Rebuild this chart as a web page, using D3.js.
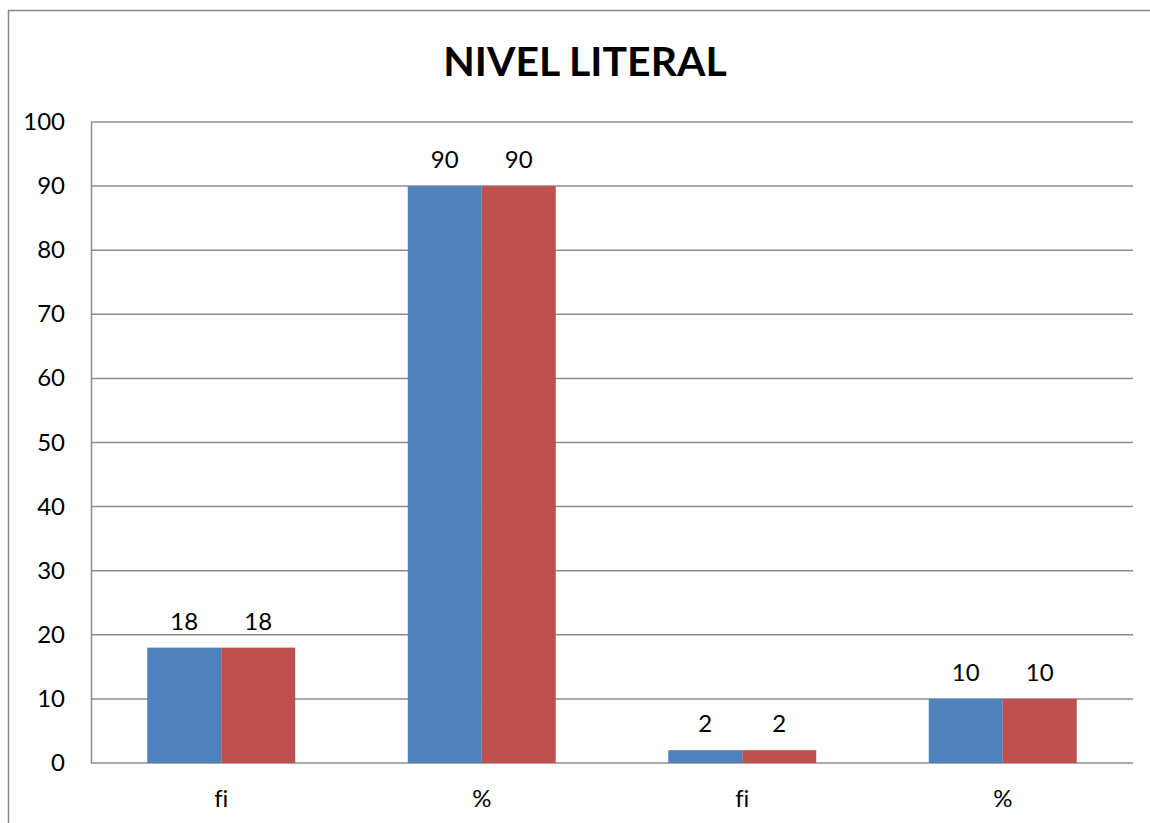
<!DOCTYPE html>
<html>
<head>
<meta charset="utf-8">
<script src="https://cdn.jsdelivr.net/npm/d3@7"></script>
<style>
  body { margin: 0; background: #fff; overflow: hidden; }
  text { font-family: Lato, "Open Sans", sans-serif; fill: #000; font-variant-ligatures: none; }
</style>
</head>
<body>
<div id="chart"></div>
<script>
const width = 1150;
const height = 823;
const margin = { top: 122, right: 17, bottom: 60, left: 91 };
const innerWidth = 1133 - margin.left;
const innerHeight = 763 - margin.top;

// data
const categories = ["fi", "%", "fi", "%"];
const series = ["Serie1", "Serie2"];
const serie1 = [18, 90, 2, 10];
const serie2 = [18, 90, 2, 10];
const colors = ["#4F81BD", "#C0504D"];
const yTicks = [0, 10, 20, 30, 40, 50, 60, 70, 80, 90, 100];

const rows = categories.map((c, i) => ({ key: i, label: c, values: [serie1[i], serie2[i]] }));

const root = d3.select("#chart")
    .append("svg")
    .attr("width", width)
    .attr("height", height)
    .style("display", "block");

// outer frame (only the left and top edges are inside the picture)
root.append("path")
    .attr("d", `M8.5,${height} V10.5 H${width}`)
    .attr("fill", "none")
    .attr("stroke", "#888")
    .attr("stroke-width", 1.5);

root.append("text")
    .attr("x", 585)
    .attr("y", 76)
    .attr("text-anchor", "middle")
    .style("font-size", "41px")
    .style("font-weight", "bold")
    .text("NIVEL LITERAL");

const svg = root.append("g")
    .attr("transform", `translate(${margin.left},${margin.top})`);

const x0 = d3.scaleBand()
    .domain(rows.map(d => d.key))
    .range([0, innerWidth])
    .paddingInner(0.432)
    .paddingOuter(0.216);

const x1 = d3.scaleBand()
    .domain(d3.range(series.length))
    .range([0, x0.bandwidth()]);

const y = d3.scaleLinear()
    .domain([0, 100])
    .range([innerHeight, 0]);

// grid lines
svg.append("g")
    .selectAll("line")
    .data(yTicks)
    .enter()
    .append("line")
    .attr("x1", 0)
    .attr("x2", innerWidth)
    .attr("y1", d => y(d))
    .attr("y2", d => y(d))
    .attr("stroke", "#8c8c8c")
    .attr("stroke-width", 1.5);

// y axis line
const yAxis = svg.append("g")
    .call(d3.axisLeft(y).tickValues(yTicks).tickSize(0).tickFormat(""));
yAxis.select(".domain").attr("stroke", "#8c8c8c").attr("stroke-width", 1.5);

// y labels
svg.append("g")
    .selectAll("text")
    .data(yTicks)
    .enter()
    .append("text")
    .attr("x", -26)
    .attr("y", d => y(d) + 8)
    .attr("text-anchor", "end")
    .style("font-size", "24px")
    .text(d => d);

// x labels
svg.append("g")
    .selectAll("text")
    .data(rows)
    .enter()
    .append("text")
    .attr("x", d => x0(d.key) + x0.bandwidth() / 2)
    .attr("y", innerHeight + 44)
    .attr("text-anchor", "middle")
    .style("font-size", "24px")
    .text(d => d.label);

// bars
const groups = svg.selectAll(".group")
    .data(rows)
    .enter()
    .append("g")
    .attr("class", "group")
    .attr("transform", d => `translate(${x0(d.key)},0)`);

groups.selectAll("rect")
    .data(d => d.values.map((v, j) => ({ v, j })))
    .enter()
    .append("rect")
    .attr("x", d => x1(d.j))
    .attr("y", d => y(d.v))
    .attr("width", x1.bandwidth())
    .attr("height", d => innerHeight - y(d.v))
    .attr("fill", d => colors[d.j]);

groups.selectAll(".value")
    .data(d => d.values.map((v, j) => ({ v, j })))
    .enter()
    .append("text")
    .attr("class", "value")
    .attr("x", d => x1(d.j) + x1.bandwidth() / 2)
    .attr("y", d => y(d.v) - 18)
    .attr("text-anchor", "middle")
    .style("font-size", "24px")
    .text(d => d.v);
</script>
</body>
</html>
